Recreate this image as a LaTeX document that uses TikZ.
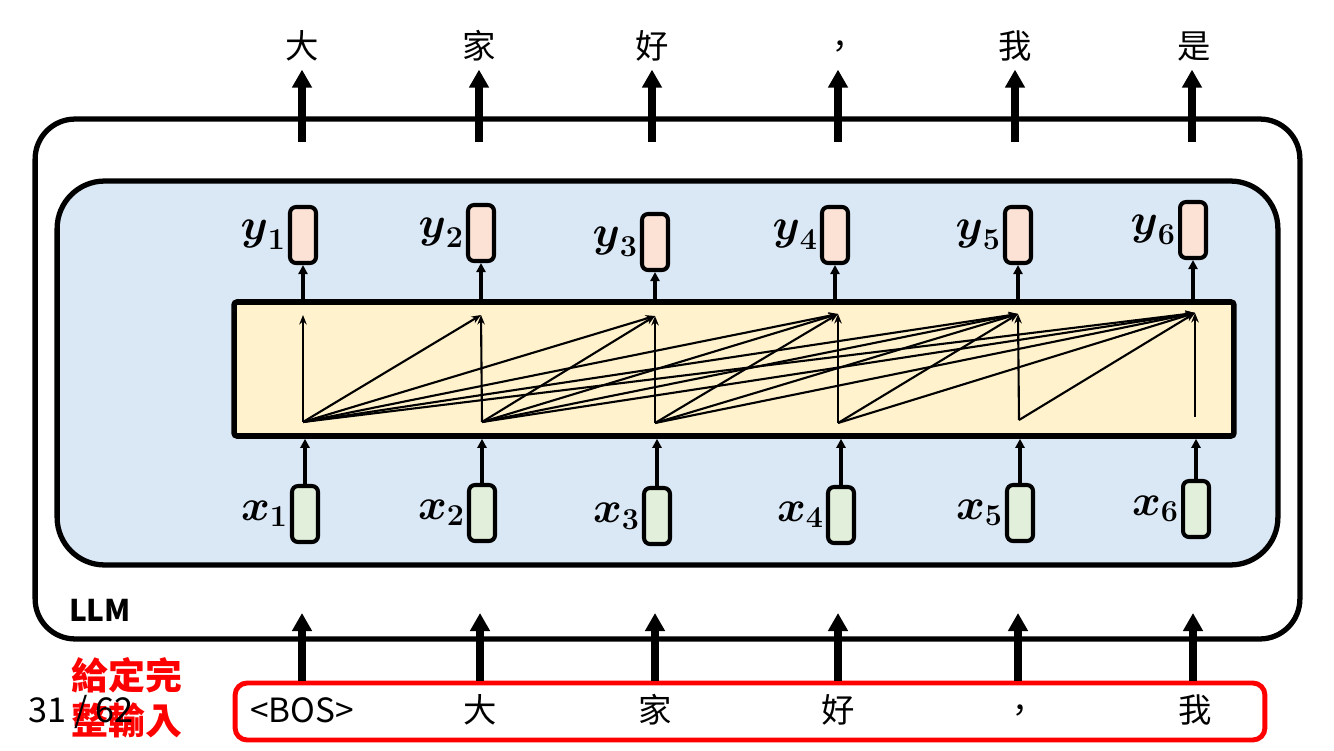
\documentclass[tikz,border=0pt]{standalone}
\usepackage{amsmath}
\usepackage[no-math]{fontspec}
\setmainfont{Noto Sans CJK TC}
\usetikzlibrary{arrows.meta}
\definecolor{blockblue}{HTML}{DAE8F6}
\definecolor{attnyellow}{HTML}{FFF2CC}
\definecolor{outpink}{HTML}{FBE2D5}
\definecolor{ingreen}{HTML}{E2EFDA}
\tikzset{
  vecbox/.style={draw=black,line width=2.3pt,rounded corners=0.12cm,
    minimum width=0.52cm,minimum height=1.12cm,inner sep=0pt},
  ybox/.style={vecbox,fill=outpink},
  xbox/.style={vecbox,fill=ingreen},
  veclabel/.style={anchor=east,inner sep=1pt,font=\fontsize{25}{30}\selectfont},
  tok/.style={font=\fontsize{19}{23}\selectfont,text height=0.52cm,
    text depth=0.1cm,inner sep=1pt},
  bigarrow/.style={line width=4.3pt,-{Triangle[width=0.38cm,length=0.36cm]}},
  midarrow/.style={line width=2.2pt,-{Triangle[width=0.18cm,length=0.18cm]}},
  attn/.style={line width=1.2pt,-{Stealth[width=0.15cm,length=0.19cm]}},
}
\begin{document}
\begin{tikzpicture}[x=0.02cm,y=-0.02cm]
  \useasboundingbox (0,0) rectangle (1334,750);
  % boxes
  \node[draw,line width=3pt,fill=white,rounded corners=0.8cm,
    minimum width=25.3cm,minimum height=10.4cm] (llm) at (667.5,379) {};
  \node[draw,line width=3pt,fill=blockblue,rounded corners=0.95cm,
    minimum width=24.42cm,minimum height=7.68cm] (block) at (667.5,373) {};
  \node[draw,line width=3.2pt,fill=attnyellow,rounded corners=0.06cm,
    minimum width=20cm,minimum height=2.68cm] (core) at (734,369) {};
  \node[draw=red,line width=2.8pt,rounded corners=0.24cm,
    minimum width=20.6cm,minimum height=1.14cm] (inbox) at (750,711.5) {};
  \node[font=\fontsize{17}{20}\selectfont\bfseries] (llmname) at (100,610) {LLM};
  % outputs
  \node[ybox] (y1) at (303,235) {};
  \node[ybox] (y2) at (481,233) {};
  \node[ybox] (y3) at (655,242) {};
  \node[ybox] (y4) at (835,235) {};
  \node[ybox] (y5) at (1018,235) {};
  \node[ybox] (y6) at (1193,230) {};
  \node[veclabel] at (y1.west) {$\boldsymbol{y}_{\boldsymbol{1}}$};
  \node[veclabel] at (y2.west) {$\boldsymbol{y}_{\boldsymbol{2}}$};
  \node[veclabel] at (y3.west) {$\boldsymbol{y}_{\boldsymbol{3}}$};
  \node[veclabel] at (y4.west) {$\boldsymbol{y}_{\boldsymbol{4}}$};
  \node[veclabel] at (y5.west) {$\boldsymbol{y}_{\boldsymbol{5}}$};
  \node[veclabel] at (y6.west) {$\boldsymbol{y}_{\boldsymbol{6}}$};
  % inputs
  \node[xbox] (x1) at (305,514) {};
  \node[xbox] (x2) at (482,513) {};
  \node[xbox] (x3) at (657,516) {};
  \node[xbox] (x4) at (841,515) {};
  \node[xbox] (x5) at (1020,513) {};
  \node[xbox] (x6) at (1196,509) {};
  \node[veclabel] at (x1.west) {$\boldsymbol{x}_{\boldsymbol{1}}$};
  \node[veclabel] at (x2.west) {$\boldsymbol{x}_{\boldsymbol{2}}$};
  \node[veclabel] at (x3.west) {$\boldsymbol{x}_{\boldsymbol{3}}$};
  \node[veclabel] at (x4.west) {$\boldsymbol{x}_{\boldsymbol{4}}$};
  \node[veclabel] at (x5.west) {$\boldsymbol{x}_{\boldsymbol{5}}$};
  \node[veclabel] at (x6.west) {$\boldsymbol{x}_{\boldsymbol{6}}$};
  \foreach \k in {1,...,6}{
    \draw[midarrow] (y\k |- core.north) -- (y\k.south);
    \draw[midarrow] (x\k.north) -- (x\k |- core.south);
  }
  % attention
  \coordinate (a1) at (303,422);  \coordinate (h1) at (303,315);
  \coordinate (a2) at (482,422);  \coordinate (h2) at (481,315);
  \coordinate (a3) at (655,423);  \coordinate (h3) at (655,316);
  \coordinate (a4) at (838,423);  \coordinate (h4) at (838,314);
  \coordinate (a5) at (1019,420); \coordinate (h5) at (1018,314);
  \coordinate (a6) at (1195,417); \coordinate (h6) at (1195,313);
  \foreach \i in {1,...,6}
    \foreach \j in {\i,...,6}
      \draw[attn] (a\i) -- (h\j);
  % next tokens
  \node[tok] (o1) at (302,48) {大};
  \node[tok] (o2) at (479,48) {家};
  \node[tok] (o3) at (652,48) {好};
  \node[tok] (o4) at (840,48) {，};
  \node[tok] (o5) at (1015,48) {我};
  \node[tok] (o6) at (1194,48) {是};
  \coordinate (s1) at (302,142);
  \coordinate (s2) at (479,142);
  \coordinate (s3) at (652,142);
  \coordinate (s4) at (838,142);
  \coordinate (s5) at (1015,142);
  \coordinate (s6) at (1192,142);
  \foreach \k in {1,...,6}
    \draw[bigarrow,shorten >=0.08cm] (s\k) -- (s\k |- o\k.south);
  % given tokens
  \node[tok] (i1) at (302,712) {<BOS>};
  \node[tok] (i2) at (480,712) {大};
  \node[tok] (i3) at (655,712) {家};
  \node[tok] (i4) at (838,712) {好};
  \node[tok] (i5) at (1020,712) {，};
  \node[tok] (i6) at (1195,712) {我};
  \coordinate (e1) at (302,613);
  \coordinate (e2) at (480,613);
  \coordinate (e3) at (655,613);
  \coordinate (e4) at (838,613);
  \coordinate (e5) at (1018,613);
  \coordinate (e6) at (1193,613);
  \foreach \k in {1,...,6}
    \draw[bigarrow] (e\k |- inbox.north) -- (e\k);
  \node[font=\fontsize{21}{25.6}\selectfont\bfseries,text=red,align=center,
    inner sep=0pt] (given) at (127,698) {給定完\\整輸入};
  \node[font=\fontsize{19.5}{22}\selectfont,inner sep=0pt] (page) at (81,712) {31 / 62};
\end{tikzpicture}
\end{document}
